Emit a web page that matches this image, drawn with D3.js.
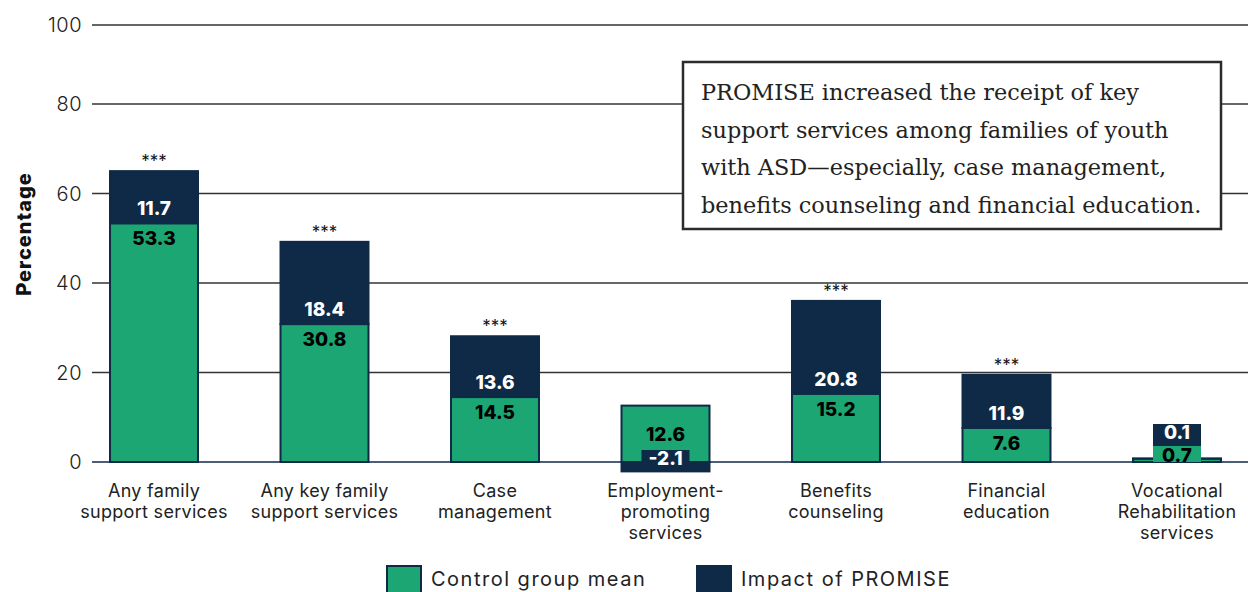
<!DOCTYPE html>
<html>
<head>
<meta charset="utf-8">
<script src="https://cdn.jsdelivr.net/npm/d3@7"></script>
<style>
  body { margin: 0; background: #fff; }
  svg { display: block; font-family: Inter, "Open Sans", sans-serif; }
</style>
</head>
<body>
<svg id="chart" width="1254" height="592"></svg>
<script>
const categories = [
  ["Any family", "support services"],
  ["Any key family", "support services"],
  ["Case", "management"],
  ["Employment-", "promoting", "services"],
  ["Benefits", "counseling"],
  ["Financial", "education"],
  ["Vocational", "Rehabilitation", "services"]
]
const controlMean = [53.3, 30.8, 14.5, 12.6, 15.2, 7.6, 0.7]
const impact = [11.7, 18.4, 13.6, -2.1, 20.8, 11.9, 0.1]
const stars = ["***", "***", "***", "", "***", "***", ""]
const yTicks = [0, 20, 40, 60, 80, 100]
const legendItems = ["Control group mean", "Impact of PROMISE"]
const noteLines = [
  "PROMISE increased the receipt of key",
  "support services among families of youth",
  "with ASD\u2014especially, case management,",
  "benefits counseling and financial education."
]

const GREEN = '#1ba673'
const NAVY = '#0e2a47'
const TEXT = '#222'

const svg = d3.select('#chart')

const x = d3.scaleBand()
  .domain(d3.range(categories.length))
  .range([68.75, 1262.25])
  .paddingInner(0.484)
  .paddingOuter(0.242)

// the source's 100 line sits a bit lower than a straight scale would put it
const y = d3.scaleLinear().domain([0, 80, 100]).range([462, 104, 25])

// grid + y labels
const grid = svg.append('g')
grid.selectAll('line').data(yTicks).join('line')
  .attr('x1', 92).attr('x2', 1248)
  .attr('y1', d => y(d)).attr('y2', d => y(d))
  .attr('stroke', d => d === 0 ? NAVY : '#333')
  .attr('stroke-width', 1.3)
grid.selectAll('text').data(yTicks).join('text')
  .attr('x', 82).attr('y', d => y(d))
  .attr('dy', '0.35em')
  .attr('text-anchor', 'end')
  .attr('fill', TEXT)
  .style('font-size', '20px')
  .style('font-weight', 300)
  .style('letter-spacing', '0.5px')
  .text(d => d)

svg.append('text')
  .attr('transform', 'translate(31,234) rotate(-90)')
  .attr('text-anchor', 'middle')
  .attr('fill', '#111')
  .style('font-size', '20px')
  .style('font-weight', 800)
  .style('letter-spacing', '1px')
  .text('Percentage')

// bars
const bars = svg.append('g')
const bw = x.bandwidth()
categories.forEach((c, i) => {
  const g = bars.append('g').attr('transform', `translate(${x(i)},0)`)
  const c0 = controlMean[i], im = impact[i]
  const y0 = y(0), yc = y(c0)
  const impTop = im >= 0 ? y(c0 + im) : y0
  const impBot = im >= 0 ? yc : y(im)

  g.append('rect')
    .attr('x', 0).attr('width', bw)
    .attr('y', impTop).attr('height', Math.max(impBot - impTop, 1))
    .attr('fill', NAVY).attr('stroke', NAVY).attr('stroke-width', 2)
  g.append('rect')
    .attr('x', 0).attr('width', bw)
    .attr('y', yc).attr('height', y0 - yc)
    .attr('fill', GREEN).attr('stroke', NAVY).attr('stroke-width', 2)

  const label = (txt, cy, color) => g.append('text')
    .attr('x', bw / 2).attr('y', cy).attr('dy', '0.36em')
    .attr('text-anchor', 'middle')
    .attr('fill', color)
    .style('font-size', '19px').style('font-weight', 800)
    .text(txt)
  const box = (top, bot, fill) => g.append('rect')
    .attr('x', bw / 2 - 24).attr('width', 48)
    .attr('y', top).attr('height', bot - top)
    .attr('fill', fill)

  const smallC = y0 - yc < 20
  const smallI = impBot - impTop < 20
  // control label
  if (smallC) {
    box(y0 - 16, y0, GREEN)
    label(c0.toFixed(1), y0 - 7, '#000')
  } else if (im < 0) {
    label(c0.toFixed(1), (yc + y0) / 2, '#000')
  } else {
    label(c0.toFixed(1), yc + 15, '#000')
  }
  // impact label
  if (smallI && im < 0) {
    box(y0 - 12, y0 + 5, NAVY)
    label(im.toFixed(1), y0 - 4, '#fff')
  } else if (smallI) {
    box(y0 - 38, y0 - 16, NAVY)
    label(im.toFixed(1), y0 - 30, '#fff')
  } else {
    label(im.toFixed(1), yc - 15, '#fff')
  }

  if (stars[i]) {
    g.append('text')
      .attr('x', bw / 2).attr('y', impTop - 4)
      .attr('text-anchor', 'middle')
      .attr('fill', '#111')
      .style('font-size', '17px')
      .text(stars[i])
  }
})

// category labels
const xl = svg.append('g')
categories.forEach((lines, i) => {
  const t = xl.append('text')
    .attr('x', x(i) + bw / 2).attr('y', 497)
    .attr('text-anchor', 'middle')
    .attr('fill', TEXT)
    .style('font-size', '18px')
    .style('letter-spacing', '0.3px')
  lines.forEach((l, k) => t.append('tspan')
    .attr('x', x(i) + bw / 2).attr('y', 497 + k * 21).text(l))
})

// note box
const note = svg.append('g')
note.append('rect')
  .attr('x', 683).attr('y', 62).attr('width', 538).attr('height', 167)
  .attr('fill', '#fff').attr('stroke', '#2b2b2b').attr('stroke-width', 2.5)
note.selectAll('text').data(noteLines).join('text')
  .attr('x', 701).attr('y', (d, i) => 100 + i * 37.5)
  .attr('fill', '#222')
  .style('font-family', '"DejaVu Serif", serif')
  .style('font-size', '22.4px')
  .text(d => d)

// legend
const legendX = [387, 697]
const legend = svg.append('g')
legendItems.forEach((name, i) => {
  legend.append('rect')
    .attr('x', legendX[i]).attr('y', 566).attr('width', 34).attr('height', 30)
    .attr('fill', i === 0 ? GREEN : NAVY).attr('stroke', NAVY).attr('stroke-width', 2)
  legend.append('text')
    .attr('x', legendX[i] + 44).attr('y', 579).attr('dy', '0.35em')
    .attr('fill', TEXT)
    .style('font-size', '20px')
    .style('letter-spacing', '1.5px')
    .text(name)
})
</script>
</body>
</html>
